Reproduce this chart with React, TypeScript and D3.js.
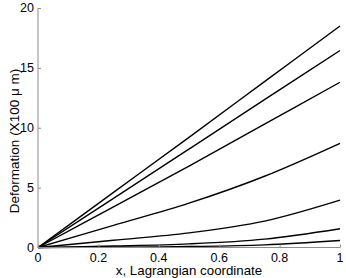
import React, { useEffect, useRef } from 'react';
import * as d3 from 'd3';

const xs = [0, 0.25, 0.5, 0.75, 1];

// deformation (x100 um), one array per curve, top to bottom
const curve1 = [0, 4.6, 9.2, 13.85, 18.5];
const curve2 = [0, 4.1, 8.22, 12.35, 16.45];
const curve3 = [0, 3.4, 6.8, 10.3, 13.8];
const curve4 = [0, 1.85, 3.7, 5.95, 8.7];
const curve5 = [0, 0.6, 1.22, 2.2, 3.95];
const curve6 = [0, 0.12, 0.3, 0.7, 1.57];
const curve7 = [0, 0.02, 0.08, 0.22, 0.58];

const xTicks = [0, 0.2, 0.4, 0.6, 0.8, 1];
const yTicks = [0, 5, 10, 15, 20];

const App = () => {
  const svgRef = useRef<SVGSVGElement>(null);

  useEffect(() => {
    const svg = d3.select(svgRef.current);
    svg.selectAll('*').remove();

    const left = 38, right = 340, top = 8, bottom = 247.5;
    const x = d3.scaleLinear().domain([0, 1]).range([left, right]);
    const y = d3.scaleLinear().domain([0, 20]).range([bottom, top]);
    const axisColor = '#8c8c8c';
    const font = 'Liberation Sans, Arial, sans-serif';

    const line = d3.line<[number, number]>()
      .x(d => x(d[0]))
      .y(d => y(d[1]))
      .curve(d3.curveCatmullRom.alpha(0.5));

    const curves = [curve1, curve2, curve3, curve4, curve5, curve6, curve7];
    svg.append('g')
      .selectAll('path')
      .data(curves)
      .enter().append('path')
      .attr('d', c => line(c.map((v, i) => [xs[i], v] as [number, number])))
      .attr('fill', 'none')
      .attr('stroke', '#000')
      .attr('stroke-width', 1.4);

    // left axis, ticks point inward like matlab
    const yAxis = svg.append('g').attr('transform', `translate(${left},0)`)
      .call(d3.axisRight(y).tickValues(yTicks).tickSize(3).tickFormat(() => ''));
    yAxis.selectAll('line, path').attr('stroke', axisColor);
    yAxis.select('.domain').attr('d', `M0,${top}V${bottom}`);
    svg.append('g')
      .selectAll('text')
      .data(yTicks)
      .enter().append('text')
      .attr('x', left - 4)
      .attr('y', d => y(d))
      .attr('dy', '0.35em')
      .attr('text-anchor', 'end')
      .attr('font-family', font)
      .attr('font-size', 12.5)
      .text(d => d);

    const xAxis = svg.append('g').attr('transform', `translate(0,${bottom})`)
      .call(d3.axisTop(x).tickValues(xTicks).tickSize(3).tickFormat(() => ''));
    xAxis.selectAll('line, path').attr('stroke', axisColor);
    xAxis.select('.domain').attr('d', `M${left},0H${right}`);
    svg.append('g')
      .selectAll('text')
      .data(xTicks)
      .enter().append('text')
      .attr('x', d => x(d))
      .attr('y', 261.5)
      .attr('text-anchor', 'middle')
      .attr('font-family', font)
      .attr('font-size', 12.5)
      .text(d => d);

    svg.append('text')
      .attr('x', 189)
      .attr('y', 275)
      .attr('text-anchor', 'middle')
      .attr('font-family', font)
      .attr('font-size', 13.3)
      .text('x, Lagrangian coordinate');

    svg.append('text')
      .attr('transform', `translate(14,141) rotate(-90)`)
      .attr('dy', '0.35em')
      .attr('text-anchor', 'middle')
      .attr('font-family', font)
      .attr('font-size', 13.5)
      .text('Deformation (X100 μ m)');
  }, []);

  return (
    <svg ref={svgRef} width="346" height="278"
      style={{ position: 'absolute', left: 0, top: 0, background: '#fff' }}></svg>
  );
};

export default App;
